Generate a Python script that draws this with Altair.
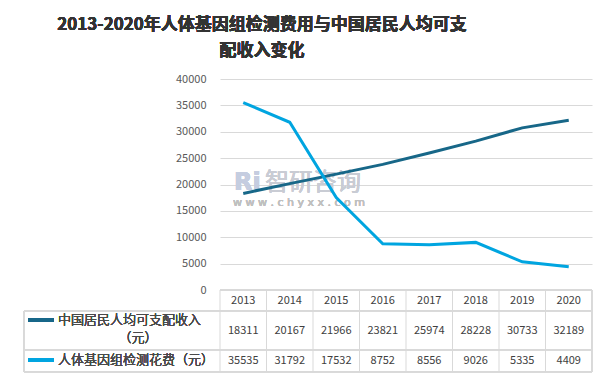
import altair as alt
import pandas as pd

years = ["2013", "2014", "2015", "2016", "2017", "2018", "2019", "2020"]
income = [18311, 20167, 21966, 23821, 25974, 28228, 30733, 32189]
cost = [35535, 31792, 17532, 8752, 8556, 9026, 5335, 4409]
series_names = ["中国居民人均可支配收入（元）", "人体基因组检测花费（元）"]
colors = ["#176788", "#00a5e0"]
title_lines = ["2013-2020年人体基因组检测费用与中国居民人均可支", "配收入变化"]

FONT = "Noto Sans CJK SC"
W, H = 372, 211
STEP = W / len(years)
GRID = "#d9d9d9"
TXT = "#404040"

rows = []
for y, a, b in zip(years, income, cost):
    rows.append({"year": y, "series": series_names[0], "value": a})
    rows.append({"year": y, "series": series_names[1], "value": b})
df = pd.DataFrame(rows)
yr = pd.DataFrame({"year": years})

xs = alt.X("year:O", scale=alt.Scale(type="point", padding=0.5, domain=years), axis=None)

base = alt.Chart(df)

lines = base.mark_line(strokeWidth=3).encode(
    x=xs,
    y=alt.Y("value:Q", scale=alt.Scale(domain=[0, 40000]),
            axis=alt.Axis(values=list(range(0, 40001, 5000)), format="d", title=None, domain=False,
                          ticks=False, labelPadding=14, labelFontSize=11,
                          labelColor="#595959", labelFont=FONT, gridColor=GRID)),
    color=alt.Color("series:N", scale=alt.Scale(domain=series_names, range=colors), legend=None),
)

# watermark
wm1 = alt.Chart(yr).mark_text(text="智研咨询", font=FONT, fontSize=24, color="#c9ccd4",
                              align="left", baseline="middle", opacity=0.65).encode(
    x=alt.value(45), y=alt.value(104))
wm2 = alt.Chart(yr).mark_text(text="w w w . c h y x x . c o m", font="DejaVu Sans", fontSize=11,
                              color="#c0c0c0", align="left", baseline="middle", opacity=0.7).encode(
    x=alt.value(13), y=alt.value(124))
wm3 = alt.Chart(yr).mark_text(text="Ri", font="DejaVu Sans", fontWeight="bold", fontSize=24,
                              color="#c5cde0", align="left", baseline="middle", opacity=0.7).encode(
    x=alt.value(14), y=alt.value(104))

# title
t1 = alt.Chart(yr).mark_text(text=title_lines[0], font=FONT, fontWeight="bold", fontSize=17,
                             color="#333333", align="center", baseline="middle").encode(
    x=alt.value(42), y=alt.value(-54))
t2 = alt.Chart(yr).mark_text(text=title_lines[1], font=FONT, fontWeight="bold", fontSize=17,
                             color="#333333", align="center", baseline="middle").encode(
    x=alt.value(42), y=alt.value(-28))

# table grid
hline_axis = alt.Chart(yr).mark_rule(color=GRID, strokeWidth=1).encode(
    x=alt.value(0), x2=alt.value(W), y=alt.value(H))
hlines = [alt.Chart(yr).mark_rule(color=GRID, strokeWidth=1).encode(
    x=alt.value(-196), x2=alt.value(W), y=alt.value(H + v)) for v in (21, 60, 82)]
vcols = alt.Chart(yr).mark_rule(color=GRID, strokeWidth=1, xOffset=-STEP / 2).encode(
    x=xs, y=alt.value(H), y2=alt.value(H + 82))
vright = alt.Chart(yr).mark_rule(color=GRID, strokeWidth=1).encode(
    x=alt.value(W), y=alt.value(H), y2=alt.value(H + 82))
vleft = alt.Chart(yr).mark_rule(color=GRID, strokeWidth=1).encode(
    x=alt.value(-196), y=alt.value(H + 21), y2=alt.value(H + 82))

# table texts
hdr = alt.Chart(yr).mark_text(font=FONT, fontSize=11, color=TXT, baseline="middle").encode(
    x=xs, y=alt.value(H + 11), text="year:N")
r1 = alt.Chart(pd.DataFrame({"year": years, "v": income})).mark_text(
    font=FONT, fontSize=11, color=TXT, baseline="middle").encode(
    x=xs, y=alt.value(H + 41), text="v:N")
r2 = alt.Chart(pd.DataFrame({"year": years, "v": cost})).mark_text(
    font=FONT, fontSize=11, color=TXT, baseline="middle").encode(
    x=xs, y=alt.value(H + 71), text="v:N")

# legend entries in table
LEGC = "#4a4a4a"
leg_line1 = alt.Chart(yr).mark_rule(color=colors[0], strokeWidth=3).encode(
    x=alt.value(-192), x2=alt.value(-166), y=alt.value(H + 30))
leg_line2 = alt.Chart(yr).mark_rule(color=colors[1], strokeWidth=3).encode(
    x=alt.value(-192), x2=alt.value(-166), y=alt.value(H + 70))
leg_t1 = alt.Chart(yr).mark_text(text="中国居民人均可支配收入", font=FONT, fontSize=13, fontWeight=300,
                                 color=LEGC, align="left", baseline="middle").encode(
    x=alt.value(-162), y=alt.value(H + 30))
leg_t1b = alt.Chart(yr).mark_text(text="（元）", font=FONT, fontSize=13, fontWeight=300, color=LEGC,
                                  align="center", baseline="middle").encode(
    x=alt.value(-82), y=alt.value(H + 48))
leg_t2 = alt.Chart(yr).mark_text(text="人体基因组检测花费（元）", font=FONT, fontSize=13, fontWeight=300,
                                 color=LEGC, align="left", baseline="middle").encode(
    x=alt.value(-162), y=alt.value(H + 70))

chart = alt.layer(
    wm3, wm1, wm2, lines, t1, t2, hline_axis, *hlines, vcols, vright, vleft,
    hdr, r1, r2, leg_line1, leg_line2, leg_t1, leg_t1b, leg_t2,
).properties(
    width=W, height=H,
    autosize=alt.AutoSizeParams(type="none"),
    padding={"left": 212, "top": 71, "right": 8, "bottom": 83},
    background="white",
).configure_view(stroke=None)

chart.save("out.html", embed_options={"renderer": "svg", "actions": False})
